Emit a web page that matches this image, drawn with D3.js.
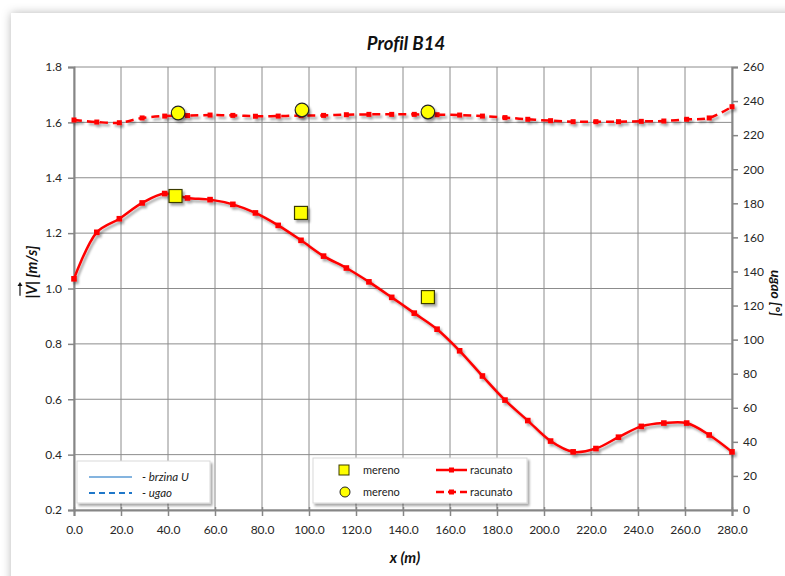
<!DOCTYPE html>
<html><head><meta charset="utf-8">
<script src="https://cdn.jsdelivr.net/npm/d3@7"></script>
<style>
html,body{margin:0;padding:0;background:#fff;}
svg{display:block;font-family:Lato,"Open Sans",sans-serif;font-variant-ligatures:none;}
</style></head>
<body>
<svg id="c" width="785" height="576"></svg>
<script>
// ---- data ----
const title = "Profil B14";
const xCalc = [0, 9.7, 19.3, 29.0, 38.6, 48.3, 57.9, 67.6, 77.2, 86.9, 96.6, 106.2, 115.9, 125.5, 135.2,
  144.8, 154.5, 164.1, 173.8, 183.4, 193.1, 202.8, 212.4, 222.1, 231.7, 241.4, 251.0, 260.7, 270.3, 280.0];
const velCalc = [1.035, 1.203, 1.252, 1.309, 1.343, 1.327, 1.321, 1.304, 1.273, 1.228, 1.174, 1.117, 1.074, 1.024, 0.968,
  0.911, 0.853, 0.775, 0.684, 0.597, 0.523, 0.449, 0.410, 0.422, 0.463, 0.502, 0.514, 0.514, 0.471, 0.410];
const angCalc = [228.9, 227.7, 227.3, 230.1, 231.2, 231.5, 231.8, 231.6, 231.1, 231.2, 231.5, 231.6, 232.0, 232.2, 232.2,
  232.2, 232.0, 231.8, 231.2, 230.3, 229.3, 228.5, 227.9, 227.9, 227.9, 228.1, 228.3, 229.3, 230.1, 236.7];
const xMeasVel = [43.2, 96.6, 150.6];
const velMeas = [1.334, 1.273, 0.969];
const xMeasAng = [44.3, 97.0, 150.6];
const angMeas = [233.0, 234.8, 233.6];
const xTicks = [0,20,40,60,80,100,120,140,160,180,200,220,240,260,280];
const yLeftTicks = [0.2,0.4,0.6,0.8,1.0,1.2,1.4,1.6,1.8];
const yRightTicks = [0,20,40,60,80,100,120,140,160,180,200,220,240,260];

const svg = d3.select("#c");
const defs = svg.append("defs");
const f1 = defs.append("filter").attr("id","frameShadow").attr("x","-10%").attr("y","-10%").attr("width","120%").attr("height","120%");
f1.append("feDropShadow").attr("dx",0).attr("dy",0).attr("stdDeviation",5).attr("flood-color","#000").attr("flood-opacity",0.28);
const f2 = defs.append("filter").attr("id","sh").attr("x","-20%").attr("y","-20%").attr("width","140%").attr("height","140%");
f2.append("feDropShadow").attr("dx",2).attr("dy",2.5).attr("stdDeviation",1.3).attr("flood-color","#000").attr("flood-opacity",0.35);

// chart frame
svg.append("rect").attr("x",11).attr("y",13).attr("width",800).attr("height",600)
  .attr("fill","#fff").attr("filter","url(#frameShadow)");

const x = d3.scaleLinear().domain([0,280]).range([74,732]);
const yL = d3.scaleLinear().domain([0.2,1.8]).range([510,67]);
const yR = d3.scaleLinear().domain([0,260]).range([510,67]);

// grid
const grid = svg.append("g");
grid.selectAll(".gv").data(xTicks).join("line")
  .attr("x1",d=>x(d)).attr("x2",d=>x(d)).attr("y1",yL(1.8)).attr("y2",yL(0.2))
  .attr("stroke","#8c8c8c").attr("stroke-width",1);
grid.selectAll(".gh").data(yLeftTicks).join("line")
  .attr("x1",x(0)).attr("x2",x(280)).attr("y1",d=>yL(d)).attr("y2",d=>yL(d))
  .attr("stroke","#8c8c8c").attr("stroke-width",1);

// axes
const tickFmt1 = d3.format(".1f");
const axL = svg.append("g").attr("transform",`translate(${x(0)},0)`)
  .call(d3.axisLeft(yL).tickValues(yLeftTicks).tickFormat(tickFmt1).tickSize(6).tickPadding(6));
const axR = svg.append("g").attr("transform",`translate(${x(280)},0)`)
  .call(d3.axisRight(yR).tickValues(yRightTicks).tickFormat(d3.format("d")).tickSize(6).tickPadding(5));
const axB = svg.append("g").attr("transform",`translate(0,${yL(0.2)})`)
  .call(d3.axisBottom(x).tickValues(xTicks).tickFormat(tickFmt1).tickSize(6).tickPadding(9));
[axL,axR,axB].forEach(a=>{
  a.select(".domain").attr("stroke","#868686").attr("stroke-width",2);
  a.selectAll(".tick line").attr("stroke","#868686").attr("stroke-width",1.5);
  a.selectAll(".tick text").attr("fill","#262626").attr("font-size",12).attr("font-family","Lato, 'Open Sans', sans-serif");
});
axB.selectAll(".tick line").attr("y1",-3);

// lines
const lineV = d3.line().x((d,i)=>x(xCalc[i])).y(d=>yL(d)).curve(d3.curveCatmullRom.alpha(0.5));
const lineA = d3.line().x((d,i)=>x(xCalc[i])).y(d=>yR(d)).curve(d3.curveCatmullRom.alpha(0.5));

const gA = svg.append("g").attr("filter","url(#sh)");
gA.append("path").attr("d",lineA(angCalc)).attr("fill","none").attr("stroke","#ff0000")
  .attr("stroke-width",2.5).attr("stroke-dasharray","8,5");
gA.selectAll("rect").data(angCalc).join("rect")
  .attr("x",(d,i)=>x(xCalc[i])-2.5).attr("y",d=>yR(d)-2.5).attr("width",5).attr("height",5)
  .attr("fill","#ff0000");

const gV = svg.append("g").attr("filter","url(#sh)");
gV.append("path").attr("d",lineV(velCalc)).attr("fill","none").attr("stroke","#ff0000").attr("stroke-width",2.5);
gV.selectAll("rect").data(velCalc).join("rect")
  .attr("x",(d,i)=>x(xCalc[i])-2.8).attr("y",d=>yL(d)-2.8).attr("width",5.6).attr("height",5.6)
  .attr("fill","#ff0000");

// measured
const gM = svg.append("g").attr("filter","url(#sh)");
gM.selectAll("rect").data(velMeas).join("rect")
  .attr("x",(d,i)=>x(xMeasVel[i])-6.5).attr("y",d=>yL(d)-6.5).attr("width",13).attr("height",13)
  .attr("fill","#ffff00").attr("stroke","#3a3a00").attr("stroke-width",1.2);
gM.selectAll("circle").data(angMeas).join("circle")
  .attr("cx",(d,i)=>x(xMeasAng[i])).attr("cy",d=>yR(d)).attr("r",6.8)
  .attr("fill","#ffff00").attr("stroke","#222").attr("stroke-width",1.2);

// title & axis labels
svg.append("text").attr("x",406).attr("y",50).attr("text-anchor","middle")
  .attr("font-size",18.5).attr("font-weight","bold").attr("font-style","italic").attr("fill","#111").text(title);
svg.append("text").attr("x",405).attr("y",563).attr("text-anchor","middle")
  .attr("font-size",15).attr("font-weight","bold").attr("font-style","italic").attr("fill","#111").text("x (m)");

const gLy = svg.append("g").attr("transform","translate(37,272) rotate(-90)");
const ylab = gLy.append("text").attr("x",0).attr("y",0).attr("text-anchor","middle")
  .attr("font-size",15).attr("font-weight","bold").attr("font-style","italic").attr("fill","#111").text("|V| [m/s]");
const node = ylab.node();
const w = node.getComputedTextLength();
const vStart = -w/2 + node.getSubStringLength(0,1);
const vW = node.getSubStringLength(1,1);
const ax1 = vStart - 1, ax2 = vStart + vW + 3, ay = -17;
gLy.append("line").attr("x1",ax1).attr("x2",ax2-2).attr("y1",ay).attr("y2",ay).attr("stroke","#111").attr("stroke-width",1.2);
gLy.append("path").attr("d",`M${ax2},${ay} L${ax2-4},${ay-2.5} L${ax2-4},${ay+2.5} Z`).attr("fill","#111");

svg.append("g").attr("transform","translate(771,293) rotate(90)")
  .append("text").attr("text-anchor","middle").attr("font-size",14).attr("font-weight","bold")
  .attr("font-style","italic").attr("fill","#111").text("ugao [°]");

// legend 1
const lg1 = svg.append("g");
lg1.append("rect").attr("x",77).attr("y",461).attr("width",133).attr("height",42)
  .attr("fill","#fff").attr("stroke","#d9d9d9").attr("filter","url(#sh)");
lg1.append("line").attr("x1",89).attr("x2",132).attr("y1",477).attr("y2",477).attr("stroke","#5b9bd5").attr("stroke-width",1.5);
lg1.append("line").attr("x1",89).attr("x2",132).attr("y1",493).attr("y2",493).attr("stroke","#1f77c9").attr("stroke-width",1.8).attr("stroke-dasharray","6,4");
lg1.append("text").attr("x",142).attr("y",481).attr("font-size",11.5).attr("font-style","italic").attr("fill","#222").text("- brzina U");
lg1.append("text").attr("x",142).attr("y",497).attr("font-size",11.5).attr("font-style","italic").attr("fill","#222").text("- ugao");

// legend 2
const lg2 = svg.append("g");
lg2.append("rect").attr("x",313).attr("y",458).attr("width",214).attr("height",45)
  .attr("fill","#fff").attr("stroke","#d9d9d9").attr("filter","url(#sh)");
lg2.append("rect").attr("x",339).attr("y",465).attr("width",10).attr("height",10)
  .attr("fill","#ffff00").attr("stroke","#3a3a00").attr("stroke-width",1);
lg2.append("circle").attr("cx",345).attr("cy",492).attr("r",5).attr("fill","#ffff00").attr("stroke","#222").attr("stroke-width",1);
lg2.append("text").attr("x",363).attr("y",474).attr("font-size",11).attr("fill","#222").text("mereno");
lg2.append("text").attr("x",363).attr("y",496).attr("font-size",11).attr("fill","#222").text("mereno");
lg2.append("line").attr("x1",436).attr("x2",467).attr("y1",470).attr("y2",470).attr("stroke","#ff0000").attr("stroke-width",2.5);
lg2.append("rect").attr("x",449).attr("y",467.5).attr("width",5).attr("height",5).attr("fill","#ff0000");
lg2.append("line").attr("x1",436).attr("x2",467).attr("y1",492).attr("y2",492).attr("stroke","#ff0000").attr("stroke-width",2.5).attr("stroke-dasharray","8,4");
lg2.append("rect").attr("x",449).attr("y",489.5).attr("width",5).attr("height",5).attr("fill","#ff0000");
lg2.append("text").attr("x",470).attr("y",474).attr("font-size",11).attr("fill","#222").text("racunato");
lg2.append("text").attr("x",470).attr("y",496).attr("font-size",11).attr("fill","#222").text("racunato");
</script>
</body></html>
